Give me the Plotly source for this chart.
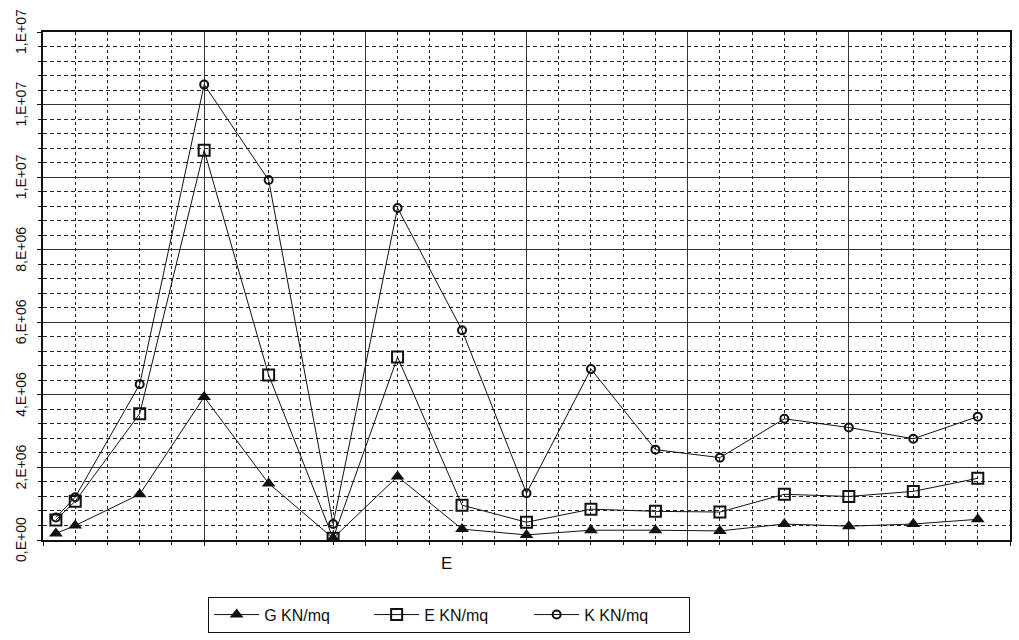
import plotly.graph_objects as go

# Sampling positions along the section
x_pos = [0.4, 1, 3, 5, 7, 9, 11, 13, 15, 17, 19, 21, 23, 25, 27, 29]

# Moduli in KN/mq
g_vals = [0.18e6, 0.40e6, 1.26e6, 3.94e6, 1.56e6, 0.05e6, 1.75e6, 0.30e6,
          0.14e6, 0.27e6, 0.27e6, 0.25e6, 0.44e6, 0.38e6, 0.44e6, 0.57e6]
e_vals = [0.55e6, 1.07e6, 3.48e6, 10.74e6, 4.55e6, 0.05e6, 5.04e6, 0.96e6,
          0.49e6, 0.85e6, 0.79e6, 0.77e6, 1.26e6, 1.20e6, 1.34e6, 1.70e6]
k_vals = [0.62e6, 1.18e6, 4.29e6, 12.55e6, 9.92e6, 0.44e6, 9.15e6, 5.78e6,
          1.29e6, 4.71e6, 2.49e6, 2.27e6, 3.34e6, 3.10e6, 2.79e6, 3.40e6]

y_tick_vals = [0, 2e6, 4e6, 6e6, 8e6, 10e6, 12e6, 14e6]
y_tick_text = ["0,E+00", "2,E+06", "4,E+06", "6,E+06", "8,E+06",
               "1,E+07", "1,E+07", "1,E+07"]

FONT = "Liberation Sans, Arial, sans-serif"

fig = go.Figure()
fig.add_trace(go.Scatter(
    x=x_pos, y=g_vals, name="G KN/mq", mode="lines+markers",
    line=dict(color="#111", width=1),
    marker=dict(symbol="triangle-up", size=12, color="#111"),
))
fig.add_trace(go.Scatter(
    x=x_pos, y=e_vals, name="E KN/mq", mode="lines+markers",
    line=dict(color="#111", width=1),
    marker=dict(symbol="square-open", size=11, color="#111",
                line=dict(width=2, color="#111")),
))
fig.add_trace(go.Scatter(
    x=x_pos, y=k_vals, name="K KN/mq", mode="lines+markers",
    line=dict(color="#111", width=1),
    marker=dict(symbol="circle-open", size=8, color="#111",
                line=dict(width=2, color="#111")),
))

# Rotated value labels beside the vertical axis
annotations = [dict(
    text=txt, x=0, y=val, xref="paper", yref="y", xshift=-22,
    xanchor="center", yanchor="middle", textangle=-90, showarrow=False,
    font=dict(size=14, family=FONT, color="#111"),
) for val, txt in zip(y_tick_vals, y_tick_text)]
annotations.append(dict(
    text="E", x=0.417, y=-0.047, xref="paper", yref="paper",
    xanchor="center", yanchor="middle", showarrow=False,
    font=dict(size=17, family=FONT, color="#111"),
))

fig.update_layout(
    width=1019, height=640,
    margin=dict(l=43, r=7, t=32, b=97),
    paper_bgcolor="white", plot_bgcolor="white",
    font=dict(family=FONT, color="#111"),
    showlegend=True,
    legend=dict(
        orientation="h", x=0.42, xanchor="center", y=-0.147, yanchor="middle",
        bordercolor="#111", borderwidth=1, font=dict(size=16, family=FONT),
        itemwidth=45, entrywidth=100, entrywidthmode="pixels",
    ),
    annotations=annotations,
)

fig.update_xaxes(
    range=[0, 30], dtick=5, tick0=0, showticklabels=False,
    showgrid=True, gridcolor="#333", gridwidth=1,
    showline=True, linecolor="#111", linewidth=2, mirror=True,
    ticks="outside", ticklen=4, tickcolor="#111",
    zeroline=False,
    minor=dict(dtick=1, showgrid=True, gridcolor="#222", griddash="dot",
               gridwidth=1, ticks="outside", ticklen=3, tickcolor="#111"),
)
fig.update_yaxes(
    range=[0, 14e6], tickvals=y_tick_vals, showticklabels=False,
    showgrid=True, gridcolor="#333", gridwidth=1,
    showline=True, linecolor="#111", linewidth=2, mirror=True,
    ticks="outside", ticklen=4, tickcolor="#111",
    zeroline=False,
    minor=dict(tickvals=[v * 4e5 for v in range(36) if v % 5 != 0],
               showgrid=True, gridcolor="#222", griddash="4px,3px",
               gridwidth=1, ticks="outside", ticklen=3, tickcolor="#111"),
)

fig.write_html("out.html")
